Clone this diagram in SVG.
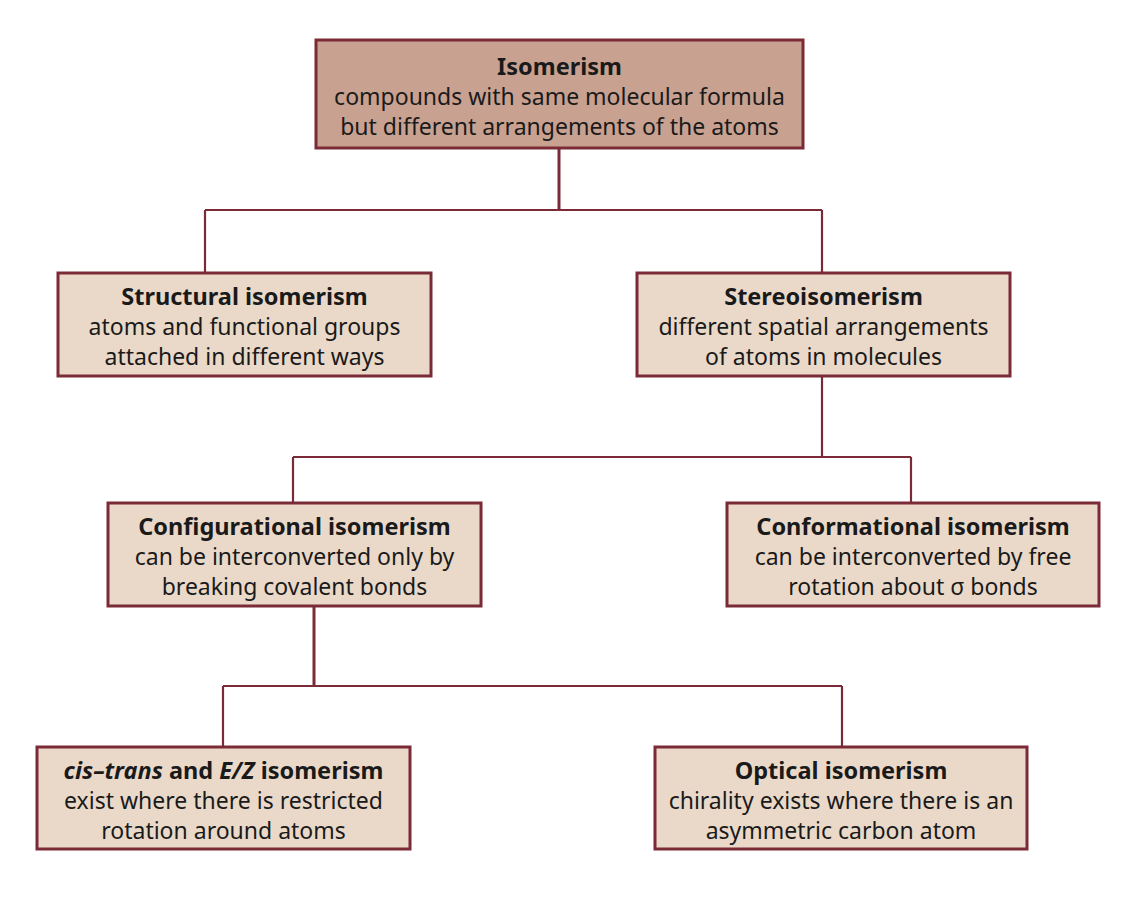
<svg xmlns="http://www.w3.org/2000/svg" width="1145" height="923" viewBox="0 0 1145 923">
<style>
.box{fill:#ead9c9;stroke:#7b2b37;stroke-width:3}
.top{fill:#c9a190;stroke:#7b2b37;stroke-width:3}
.conn{fill:none;stroke:#7b2b37;stroke-width:2.2}
.thick{stroke-width:3}
text{font-family:"Noto Sans","Open Sans","Liberation Sans",sans-serif;font-size:23px;fill:#1a1a1a;text-anchor:middle}
.t{font-weight:bold;font-size:23.5px}
</style>
<rect width="1145" height="923" fill="#ffffff"/>
<g id="connectors">
<path class="conn thick" d="M559,148 V210"/>
<path class="conn" d="M205,210 H822 M205,210 V273 M822,210 V273"/>
<path class="conn" d="M822,376 V457 M293,457 H911 M293,457 V503 M911,457 V503"/>
<path class="conn thick" d="M314,606 V686"/>
<path class="conn" d="M223,686 H842 M223,686 V747 M842,686 V747"/>
</g>
<g id="isomerism">
<rect class="top" x="316" y="40" width="487" height="108"/>
<text x="559.5" y="74.5" class="t">Isomerism</text>
<text x="559.5" y="104.5">compounds with same molecular formula</text>
<text x="559.5" y="134.5">but different arrangements of the atoms</text>
</g>
<g id="structural">
<rect class="box" x="58" y="273" width="373" height="103"/>
<text x="244.5" y="304.5" class="t">Structural isomerism</text>
<text x="244.5" y="334.5">atoms and functional groups</text>
<text x="244.5" y="364.5">attached in different ways</text>
</g>
<g id="stereo">
<rect class="box" x="637" y="273" width="373" height="103"/>
<text x="823.5" y="304.5" class="t">Stereoisomerism</text>
<text x="823.5" y="334.5">different spatial arrangements</text>
<text x="823.5" y="364.5">of atoms in molecules</text>
</g>
<g id="configurational">
<rect class="box" x="108" y="503" width="373" height="103"/>
<text x="294.5" y="534.5" class="t">Configurational isomerism</text>
<text x="294.5" y="564.5">can be interconverted only by</text>
<text x="294.5" y="594.5">breaking covalent bonds</text>
</g>
<g id="conformational">
<rect class="box" x="727" y="503" width="372" height="103"/>
<text x="913" y="534.5" class="t">Conformational isomerism</text>
<text x="913" y="564.5">can be interconverted by free</text>
<text x="913" y="594.5">rotation about σ bonds</text>
</g>
<g id="cistrans">
<rect class="box" x="37" y="747" width="373" height="102"/>
<text x="223.5" y="778.5" class="t"><tspan font-style="italic">cis–trans</tspan> and <tspan font-style="italic">E/Z</tspan> isomerism</text>
<text x="223.5" y="808.5">exist where there is restricted</text>
<text x="223.5" y="838.5">rotation around atoms</text>
</g>
<g id="optical">
<rect class="box" x="655" y="747" width="372" height="102"/>
<text x="841" y="778.5" class="t">Optical isomerism</text>
<text x="841" y="808.5">chirality exists where there is an</text>
<text x="841" y="838.5">asymmetric carbon atom</text>
</g>
</svg>
